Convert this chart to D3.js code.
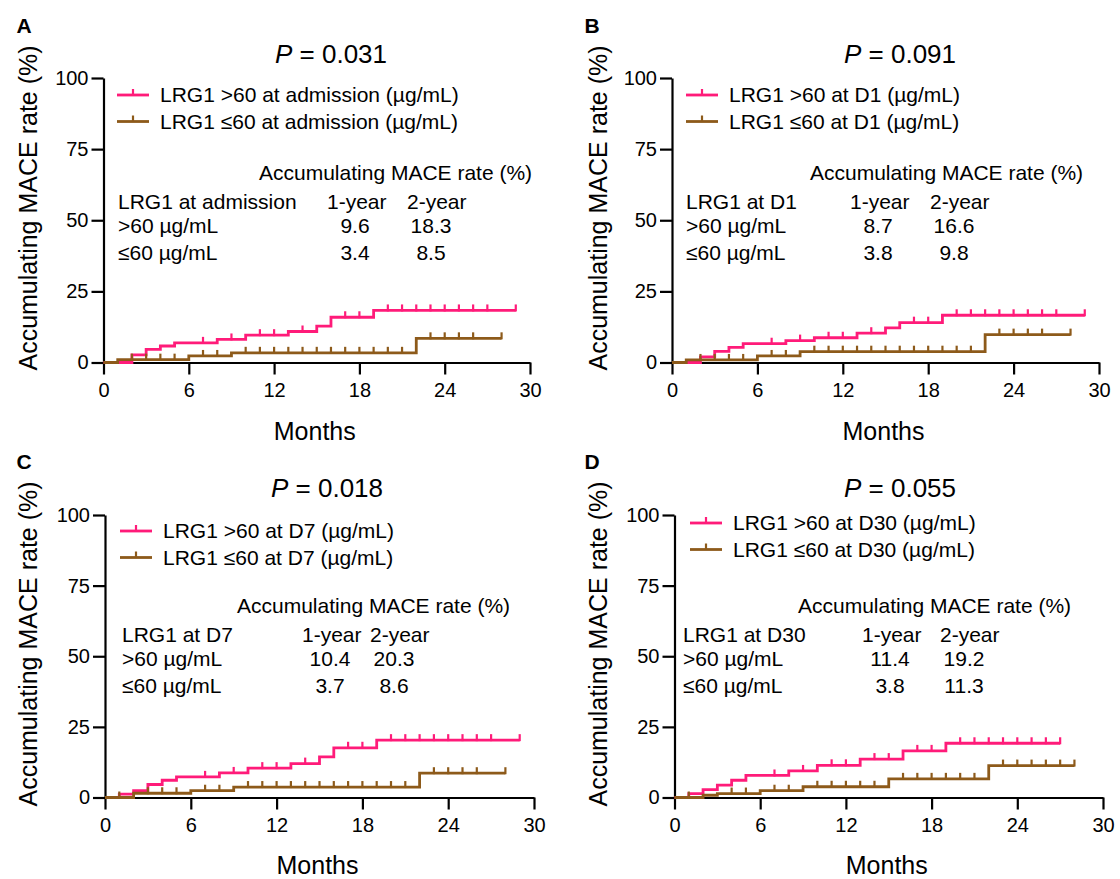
<!DOCTYPE html>
<html>
<head>
<meta charset="utf-8">
<script src="https://cdn.jsdelivr.net/npm/d3@7"></script>
<style>
  body { margin: 0; background: #fff; }
  text { font-family: "Liberation Sans", Arial, sans-serif; fill: #000; }
</style>
</head>
<body>
<div id="chart"></div>
<script>
// ---- data ----
var monthTicks = [0, 6, 12, 18, 24, 30];
var rateTicks = [0, 25, 50, 75, 100];

// panel A : LRG1 at admission
var aHighTimes = [2, 3, 4, 5, 8, 10, 13, 15, 16, 19];
var aHighRates = [2.7, 4.6, 5.8, 6.9, 8.1, 9.6, 10.9, 12.8, 15.9, 18.3];
var aHighCensor = [7, 9, 11, 12, 14, 17, 18, 20, 21, 22, 23, 24, 25, 26, 27, 29];
var aLowTimes = [1, 6, 9, 22];
var aLowRates = [1.0, 2.3, 3.4, 8.5];
var aLowCensor = [2, 3, 4, 5, 7, 8, 10, 11, 12, 13, 14, 15, 16, 17, 18, 19, 20, 21, 23, 24, 25, 26, 28];

// panel B : LRG1 at D1
var bHighTimes = [2, 3, 4, 5, 8, 10, 13, 15, 16, 19];
var bHighRates = [2.0, 3.9, 5.3, 6.6, 7.7, 8.7, 10.3, 12.2, 14.0, 16.6];
var bHighCensor = [7, 9, 11, 12, 14, 17, 18, 20, 21, 22, 23, 24, 25, 26, 27, 29];
var bLowTimes = [1, 6, 9, 22];
var bLowRates = [0.9, 2.3, 3.8, 9.8];
var bLowCensor = [2, 3, 4, 5, 7, 8, 10, 11, 12, 13, 14, 15, 16, 17, 18, 19, 20, 21, 23, 24, 25, 26, 28];

// panel C : LRG1 at D7
var cHighTimes = [1, 2, 3, 4, 5, 8, 10, 13, 15, 16, 19];
var cHighRates = [1.2, 2.4, 4.6, 6.1, 7.3, 8.7, 10.4, 12.0, 14.4, 17.6, 20.3];
var cHighCensor = [7, 9, 11, 12, 14, 17, 18, 20, 21, 22, 23, 24, 25, 26, 27, 29];
var cLowTimes = [2, 6, 9, 22];
var cLowRates = [1.5, 2.4, 3.7, 8.6];
var cLowCensor = [1, 3, 4, 5, 7, 8, 10, 11, 12, 13, 14, 15, 16, 17, 18, 19, 20, 21, 23, 24, 25, 26, 28];

// panel D : LRG1 at D30
var dHighTimes = [1, 2, 3, 4, 5, 8, 10, 13, 16, 19];
var dHighRates = [1.4, 2.8, 4.4, 6.1, 7.8, 9.4, 11.4, 13.6, 16.5, 19.2];
var dHighCensor = [7, 9, 11, 12, 14, 15, 17, 18, 20, 21, 22, 23, 24, 25, 26, 27];
var dLowTimes = [2, 3, 6, 9, 15, 22];
var dLowRates = [0.8, 1.4, 2.4, 3.8, 6.6, 11.3];
var dLowCensor = [1, 4, 5, 7, 8, 10, 11, 12, 13, 14, 16, 17, 18, 19, 20, 21, 23, 24, 25, 26, 27, 28];

var pValues = ["0.031", "0.091", "0.018", "0.055"];
var timepoints = ["admission", "D1", "D7", "D30"];
var oneYear = [["9.6", "3.4"], ["8.7", "3.8"], ["10.4", "3.7"], ["11.4", "3.8"]];
var twoYear = [["18.3", "8.5"], ["16.6", "9.8"], ["20.3", "8.6"], ["19.2", "11.3"]];

var pink = "#ff1b79", brown = "#8d5a1a";

// ---- layout of the four panels ----
var panels = [
  { letter: "A", idx: 0, high: [aHighTimes, aHighRates, aHighCensor], low: [aLowTimes, aLowRates, aLowCensor],
    x0: 103.5, x1: 530, y0: 362.5, y1: 78, letterX: 24, letterY: 33, yLabX: 28, yLabY: 208, pX: 331, pY: 63, monY: 440,
    legX: 117, legY: 95, tabTitleX: 259, tabX: 118, tabY: 173, col1: 327, col2: 407 },
  { letter: "B", idx: 1, high: [bHighTimes, bHighRates, bHighCensor], low: [bLowTimes, bLowRates, bLowCensor],
    x0: 672, x1: 1099, y0: 362.5, y1: 78, letterX: 592, letterY: 33, yLabX: 598, yLabY: 208, pX: 900, pY: 63, monY: 440,
    legX: 686, legY: 95, tabTitleX: 810, tabX: 686, tabY: 173, col1: 850, col2: 930 },
  { letter: "C", idx: 2, high: [cHighTimes, cHighRates, cHighCensor], low: [cLowTimes, cLowRates, cLowCensor],
    x0: 105, x1: 534, y0: 797.5, y1: 515, letterX: 24, letterY: 469, yLabX: 28, yLabY: 644, pX: 327, pY: 497, monY: 874,
    legX: 120, legY: 531, tabTitleX: 237, tabX: 122, tabY: 606, col1: 302, col2: 370 },
  { letter: "D", idx: 3, high: [dHighTimes, dHighRates, dHighCensor], low: [dLowTimes, dLowRates, dLowCensor],
    x0: 674.5, x1: 1103, y0: 797.5, y1: 515, letterX: 592, letterY: 469, yLabX: 598, yLabY: 644, pX: 900, pY: 497, monY: 874,
    legX: 690, legY: 523, tabTitleX: 798, tabX: 683, tabY: 606, col1: 862, col2: 940 }
];

var svg = d3.select("#chart").append("svg")
    .attr("width", 1120)
    .attr("height", 879);

svg.append("rect").attr("width", 1120).attr("height", 879).attr("fill", "#fff");

// level of a step curve at time t
function levelAt(times, rates, t) {
  var v = 0;
  times.forEach(function(tt, i) { if (tt <= t) v = rates[i]; });
  return v;
}

panels.forEach(function(p) {
  var g = svg.append("g");
  var x = d3.scaleLinear().domain([0, 30]).range([p.x0, p.x1]);
  var y = d3.scaleLinear().domain([0, 100]).range([p.y0, p.y1]);

  // panel letter
  g.append("text")
      .attr("x", p.letterX).attr("y", p.letterY)
      .attr("text-anchor", "middle")
      .style("font-size", "21px").style("font-weight", "bold")
      .text(p.letter);

  // P value title
  var t = g.append("text")
      .attr("x", p.pX).attr("y", p.pY)
      .attr("text-anchor", "middle")
      .style("font-size", "26px");
  t.append("tspan").style("font-style", "italic").text("P");
  t.append("tspan").text(" = " + pValues[p.idx]);

  // axes
  var yAxis = d3.axisLeft(y).tickValues(rateTicks).tickSizeInner(12).tickSizeOuter(0).tickPadding(3);
  var xAxis = d3.axisBottom(x).tickValues(monthTicks).tickSizeInner(12).tickSizeOuter(0).tickPadding(8);

  var ya = g.append("g").attr("transform", "translate(" + p.x0 + ",0)").call(yAxis);
  var xa = g.append("g").attr("transform", "translate(0," + p.y0 + ")").call(xAxis);
  [ya, xa].forEach(function(a) {
    a.select(".domain").attr("stroke", "#000").attr("stroke-width", 2.2);
    a.selectAll(".tick line").attr("stroke", "#000").attr("stroke-width", 2.2);
    a.selectAll(".tick text").style("font-size", "20px").style("font-family", "Liberation Sans, Arial, sans-serif").attr("fill", "#000");
  });

  // axis titles
  g.append("text")
      .attr("transform", "translate(" + p.yLabX + "," + p.yLabY + ") rotate(-90)")
      .attr("text-anchor", "middle")
      .attr("dy", "0.35em")
      .style("font-size", "25px")
      .text("Accumulating MACE rate (%)");

  g.append("text")
      .attr("x", (p.x0 + p.x1) / 2 - 2).attr("y", p.monY)
      .attr("text-anchor", "middle")
      .style("font-size", "25px")
      .text("Months");

  // survival-type step curves
  var line = d3.line()
      .x(function(d) { return x(d[0]); })
      .y(function(d) { return y(d[1]); })
      .curve(d3.curveStepAfter);

  [[p.high, pink], [p.low, brown]].forEach(function(s) {
    var times = s[0][0], rates = s[0][1], censor = s[0][2];
    var end = d3.max(censor);
    var pts = [[0, 0]];
    times.forEach(function(tt, i) { pts.push([tt, rates[i]]); });
    pts.push([end, rates[rates.length - 1]]);

    g.append("path")
        .attr("d", line(pts))
        .attr("fill", "none")
        .attr("stroke", s[1])
        .attr("stroke-width", 2.8);

    g.selectAll(null)
        .data(censor)
      .enter().append("line")
        .attr("x1", function(d) { return x(d); })
        .attr("x2", function(d) { return x(d); })
        .attr("y1", function(d) { return y(levelAt(times, rates, d)) + 1; })
        .attr("y2", function(d) { return y(levelAt(times, rates, d)) - 6; })
        .attr("stroke", s[1])
        .attr("stroke-width", 2.2);
  });

  // legend
  var legText = ["LRG1 >60 at " + timepoints[p.idx] + " (\u00b5g/mL)",
                 "LRG1 \u226460 at " + timepoints[p.idx] + " (\u00b5g/mL)"];
  [pink, brown].forEach(function(c, i) {
    var ly = p.legY + i * 26.5;
    g.append("line")
        .attr("x1", p.legX).attr("x2", p.legX + 32)
        .attr("y1", ly).attr("y2", ly)
        .attr("stroke", c).attr("stroke-width", 2.8);
    g.append("line")
        .attr("x1", p.legX + 16).attr("x2", p.legX + 16)
        .attr("y1", ly).attr("y2", ly - 6)
        .attr("stroke", c).attr("stroke-width", 2.2);
    g.append("text")
        .attr("x", p.legX + 43).attr("y", ly)
        .attr("dy", "0.35em")
        .style("font-size", "21px")
        .text(legText[i]);
  });

  // small table of accumulated rates
  var rowGap = 26.5;
  g.append("text")
      .attr("x", p.tabTitleX).attr("y", p.tabY).attr("dy", "0.35em")
      .style("font-size", "21px")
      .text("Accumulating MACE rate (%)");
  var hy = p.tabY + 28.5;
  g.append("text").attr("x", p.tabX).attr("y", hy).attr("dy", "0.35em")
      .style("font-size", "21px").text("LRG1 at " + timepoints[p.idx]);
  g.append("text").attr("x", p.col1).attr("y", hy).attr("dy", "0.35em")
      .style("font-size", "21px").text("1-year");
  g.append("text").attr("x", p.col2).attr("y", hy).attr("dy", "0.35em")
      .style("font-size", "21px").text("2-year");
  var rowLabels = [">60 \u00b5g/mL", "\u226460 \u00b5g/mL"];
  rowLabels.forEach(function(lab, i) {
    var ry = hy + (i + 1) * rowGap - 2;
    g.append("text").attr("x", p.tabX).attr("y", ry).attr("dy", "0.35em")
        .style("font-size", "21px").text(lab);
    g.append("text").attr("x", p.col1 + 28).attr("y", ry).attr("dy", "0.35em")
        .attr("text-anchor", "middle")
        .style("font-size", "21px").text(oneYear[p.idx][i]);
    g.append("text").attr("x", p.col2 + 24).attr("y", ry).attr("dy", "0.35em")
        .attr("text-anchor", "middle")
        .style("font-size", "21px").text(twoYear[p.idx][i]);
  });
});
</script>
</body>
</html>
